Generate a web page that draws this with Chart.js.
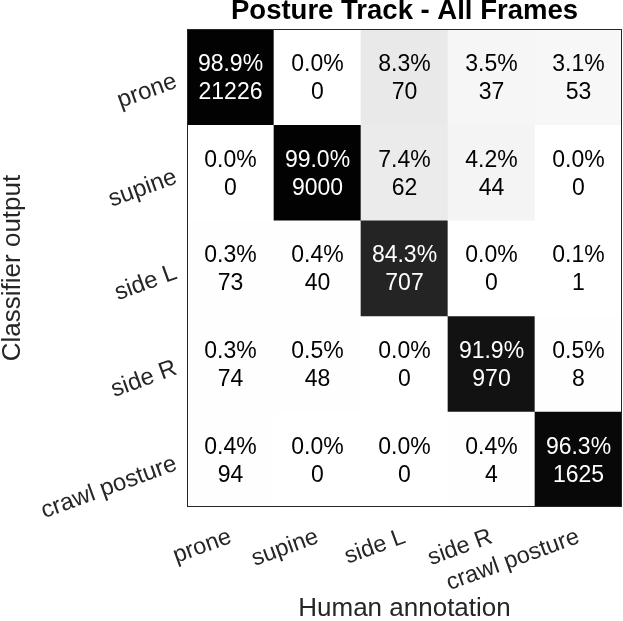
<!DOCTYPE html>
<html>
<head>
<meta charset="utf-8">
<title>Posture Track - All Frames</title>
<script src="https://cdn.jsdelivr.net/npm/chart.js@4.4.1/dist/chart.umd.min.js"></script>
<style>
  html, body { margin: 0; padding: 0; background: #fff; }
  #wrap { width: 623px; height: 621px; }
</style>
</head>
<body>
<div id="wrap"><canvas id="confusionChart"></canvas></div>
<script>
// columns = human annotation, rows = classifier output
const humanLabels = ['prone', 'supine', 'side L', 'side R', 'crawl posture'];
const classifierLabels = ['prone', 'supine', 'side L', 'side R', 'crawl posture'];

const countProne  = [21226, 0, 70, 37, 53];
const countSupine = [0, 9000, 62, 44, 0];
const countSideL  = [73, 40, 707, 0, 1];
const countSideR  = [74, 48, 0, 970, 8];
const countCrawl  = [94, 0, 0, 4, 1625];

const pctProne  = [98.9, 0.0, 8.3, 3.5, 3.1];
const pctSupine = [0.0, 99.0, 7.4, 4.2, 0.0];
const pctSideL  = [0.3, 0.4, 84.3, 0.0, 0.1];
const pctSideR  = [0.3, 0.5, 0.0, 91.9, 0.5];
const pctCrawl  = [0.4, 0.0, 0.0, 0.4, 96.3];

const counts = [countProne, countSupine, countSideL, countSideR, countCrawl];
const percents = [pctProne, pctSupine, pctSideL, pctSideR, pctCrawl];

const FONT = '"Liberation Sans", Arial, Helvetica, sans-serif';
const AXIS_COLOR = '#262626';

function cellGray(pct) {
    const v = Math.round(255 * Math.pow(1 - pct / 100, 1.05));
    return 'rgb(' + v + ',' + v + ',' + v + ')';
}

// one floating bar per cell, one dataset per classifier row
const datasets = classifierLabels.map((name, row) => ({
    label: name,
    data: humanLabels.map(() => [row - 0.5, row + 0.5]),
    backgroundColor: percents[row].map(cellGray),
    borderWidth: 0,
    barPercentage: 1,
    categoryPercentage: 1
}));

const cellText = {
    id: 'cellText',
    afterDatasetsDraw(chart) {
        const ctx = chart.ctx;
        ctx.save();
        ctx.font = '23px ' + FONT;
        ctx.textAlign = 'center';
        ctx.textBaseline = 'middle';
        chart.data.datasets.forEach((ds, row) => {
            chart.getDatasetMeta(row).data.forEach((bar, col) => {
                const pct = percents[row][col];
                const cy = (bar.y + bar.base) / 2;
                ctx.fillStyle = pct > 50 ? '#ffffff' : '#000000';
                ctx.fillText(pct.toFixed(1) + '%', bar.x, cy - 12);
                ctx.fillText(String(counts[row][col]), bar.x, cy + 16);
            });
        });
        ctx.restore();
    }
};

const plotBox = {
    id: 'plotBox',
    afterDraw(chart) {
        const a = chart.chartArea;
        const ctx = chart.ctx;
        ctx.save();
        ctx.strokeStyle = AXIS_COLOR;
        ctx.lineWidth = 1;
        ctx.strokeRect(a.left + 0.5, a.top + 0.5, a.right - a.left - 1, a.bottom - a.top - 1);
        ctx.restore();
    }
};

const ctx = document.getElementById('confusionChart').getContext('2d');
new Chart(ctx, {
    type: 'bar',
    data: {
        labels: humanLabels,
        datasets: datasets
    },
    options: {
        responsive: true,
        maintainAspectRatio: false,
        animation: false,
        layout: { padding: { left: 0, right: 1, top: 0, bottom: 0 } },
        plugins: {
            legend: { display: false },
            tooltip: { enabled: false }
        },
        scales: {
            x: {
                type: 'category',
                stacked: true,
                grid: { display: false, drawTicks: false },
                border: { display: false },
                ticks: {
                    autoSkip: false,
                    minRotation: 20,
                    maxRotation: 20,
                    padding: 16,
                    color: AXIS_COLOR,
                    font: { family: FONT, size: 23.5 }
                },
                title: {
                    display: true,
                    text: 'Human annotation',
                    color: AXIS_COLOR,
                    font: { family: FONT, size: 26, lineHeight: 0.9 },
                    padding: 0
                },
                afterFit: scale => { scale.height = 114; }
            },
            // top axis only carries the chart title, centred over the plot
            xTop: {
                type: 'category',
                position: 'top',
                labels: humanLabels,
                grid: { display: false, drawTicks: false },
                border: { display: false },
                ticks: { display: false },
                title: {
                    display: true,
                    text: 'Posture Track - All Frames',
                    color: '#000',
                    font: { family: FONT, size: 27.5, weight: 'bold', lineHeight: 0.8 },
                    padding: 0
                },
                afterFit: scale => { scale.height = 29; }
            },
            y: {
                type: 'linear',
                reverse: true,
                min: -0.5,
                max: 4.5,
                grid: { display: false, drawTicks: false },
                border: { display: false },
                afterBuildTicks: scale => {
                    scale.ticks = classifierLabels.map((_, i) => ({ value: i }));
                },
                ticks: {
                    minRotation: 20,
                    maxRotation: 20,
                    padding: 11,
                    labelOffset: 4,
                    color: AXIS_COLOR,
                    font: { family: FONT, size: 24 },
                    callback: value => classifierLabels[value]
                },
                title: {
                    display: true,
                    text: 'Classifier output',
                    color: AXIS_COLOR,
                    font: { family: FONT, size: 26, lineHeight: 0.95 },
                    padding: 0
                },
                afterFit: scale => { scale.width = 187; }
            }
        }
    },
    plugins: [cellText, plotBox]
});
</script>
</body>
</html>
